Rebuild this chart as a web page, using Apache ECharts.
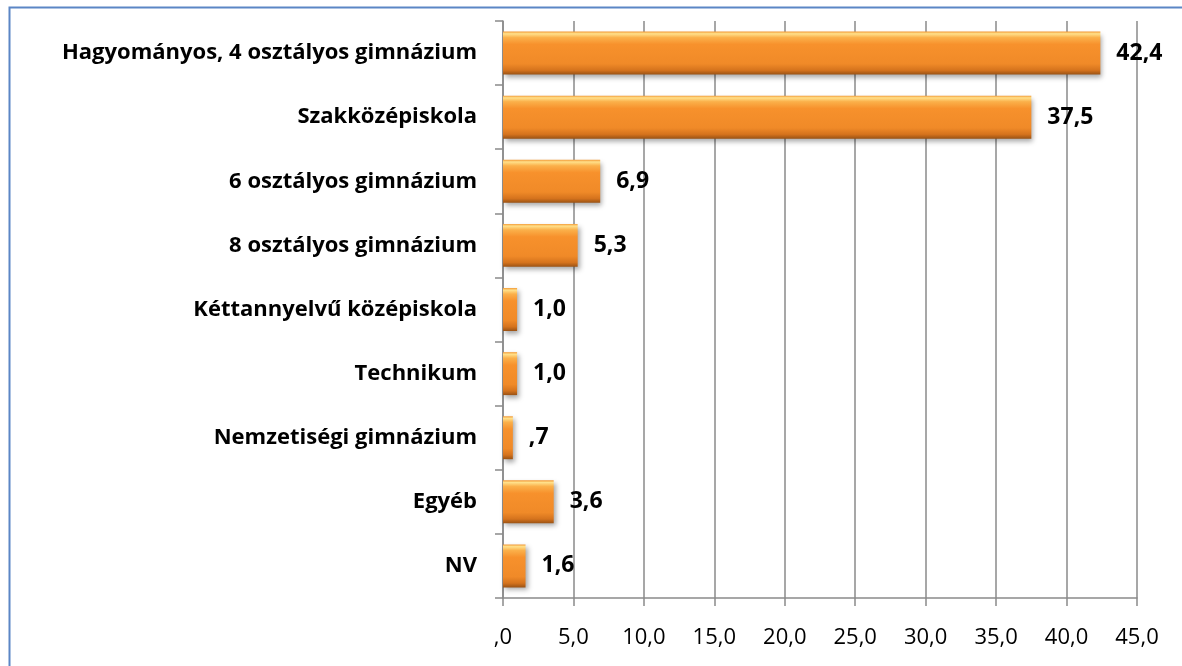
<!DOCTYPE html>
<html>
<head>
<meta charset="utf-8">
<script src="https://cdn.jsdelivr.net/npm/echarts@6/dist/echarts.min.js"></script>
<style>
html,body{margin:0;padding:0;background:#fff;}
#c{width:1182px;height:666px;}
</style>
</head>
<body>
<div id="c"></div>
<script>
const categories = ['Hagyományos, 4 osztályos gimnázium','Szakközépiskola','6 osztályos gimnázium','8 osztályos gimnázium','Kéttannyelvű középiskola','Technikum','Nemzetiségi gimnázium','Egyéb','NV'];
const values = [42.4, 37.5, 6.9, 5.3, 1.0, 1.0, 0.7, 3.6, 1.6];
const axisMin = 0, axisMax = 45, axisStep = 5;

function fmt(v){
  let s = Number(v).toFixed(1).replace('.', ',');
  if (s.startsWith('0,')) s = s.slice(1);
  return s;
}

const chart = echarts.init(document.getElementById('c'));
const gray = '#8a8a8a';
const font = '"Open Sans", sans-serif';
chart.setOption({
  backgroundColor: '#ffffff',
  animation: false,
  graphic: [{
    type: 'rect', left: 7, top: 5, z: -1,
    shape: {width: 1300, height: 800},
    style: {fill: 'none', stroke: '#5B86C5', lineWidth: 2}
  }],
  grid: {left: 503, right: 45, top: 21, bottom: 68, containLabel: false},
  xAxis: {
    type: 'value', min: axisMin, max: axisMax, interval: axisStep,
    axisLine: {show: true, lineStyle: {color: gray, width: 1.5}},
    axisTick: {show: true, length: 8, lineStyle: {color: gray, width: 1.5}},
    splitLine: {show: true, lineStyle: {color: gray, width: 1.5}},
    axisLabel: {formatter: fmt, fontFamily: font, fontSize: 22, color: '#000', margin: 29}
  },
  yAxis: {
    type: 'category', data: categories, inverse: true,
    axisLine: {show: true, lineStyle: {color: gray, width: 1.5}},
    axisTick: {show: true, length: 8, lineStyle: {color: gray, width: 1.5}},
    axisLabel: {fontFamily: font, fontWeight: 'bold', fontSize: 22, color: '#000', margin: 26}
  },
  series: [{
    type: 'bar', data: values, barCategoryGap: '33%',
    itemStyle: {
      color: {type: 'linear', x: 0, y: 0, x2: 0, y2: 1, colorStops: [
        {offset: 0, color: '#F39A36'},
        {offset: 0.05, color: '#FFE08A'},
        {offset: 0.14, color: '#FBB04A'},
        {offset: 0.3, color: '#F7912C'},
        {offset: 0.75, color: '#F08A28'},
        {offset: 0.9, color: '#D5731D'},
        {offset: 1, color: '#9A5214'}
      ]},
      shadowBlur: 5, shadowColor: 'rgba(0,0,0,0.35)', shadowOffsetX: 2, shadowOffsetY: 3
    },
    label: {show: true, position: 'right', distance: 16, formatter: p => fmt(p.value),
      fontFamily: font, fontWeight: 'bold', fontSize: 23, color: '#000'}
  }]
});
</script>
</body>
</html>
